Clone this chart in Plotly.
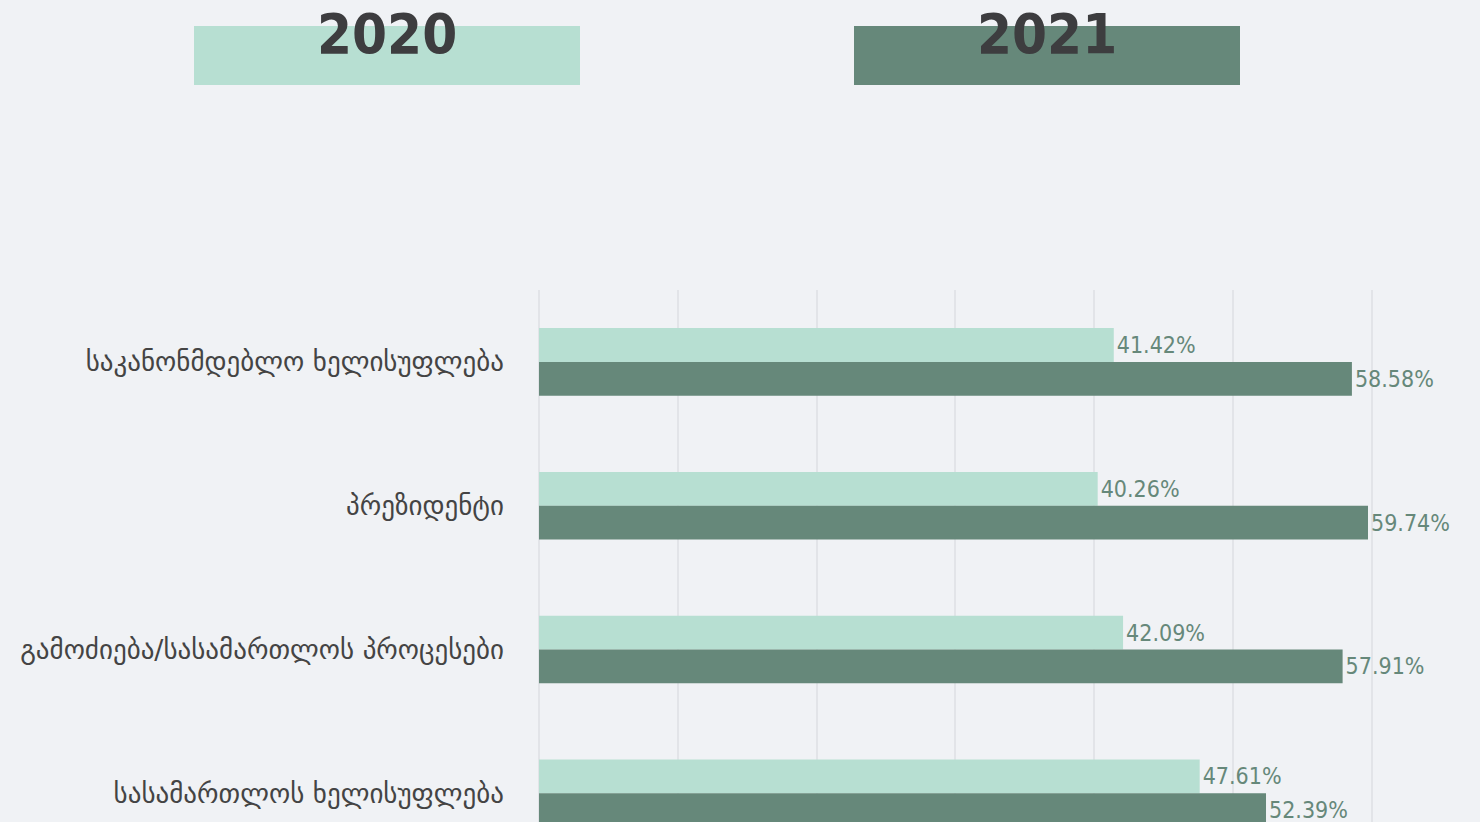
import plotly.graph_objects as go

categories = [
    "საკანონმდებლო ხელისუფლება",
    "პრეზიდენტი",
    "გამოძიება/სასამართლოს პროცესები",
    "სასამართლოს ხელისუფლება",
]
series_names = ["2020", "2021"]
values_2020 = [41.42, 40.26, 42.09, 47.61]
values_2021 = [58.58, 59.74, 57.91, 52.39]
colors = ["#b7dfd2", "#66887a"]

BG = "#f0f2f5"
W, H = 1480, 822
ML, MR, MT, MB = 539, 107, 290, 0
PW, PH = W - ML - MR, H - MT - MB

fig = go.Figure()
for name, vals, col in zip(series_names, [values_2020, values_2021], colors):
    fig.add_trace(go.Bar(
        y=categories, x=vals, name=name, orientation="h",
        marker=dict(color=col, line=dict(width=0)),
        text=[f"{v:.2f}%" for v in vals], textposition="outside",
        textfont=dict(family="DejaVu Sans Condensed, DejaVu Sans", size=23, color="#66887a"),
        cliponaxis=False,
    ))

fig.update_layout(
    width=W, height=H,
    paper_bgcolor=BG, plot_bgcolor=BG,
    margin=dict(l=ML, r=MR, t=MT, b=MB),
    barmode="group", bargap=0.53, bargroupgap=0,
    showlegend=False,
    xaxis=dict(range=[0, 60.1], dtick=10, showticklabels=False, showgrid=True,
               gridcolor="#e2e4e8", gridwidth=2, zeroline=True, zerolinecolor="#e2e4e8",
               zerolinewidth=2, fixedrange=True),
    yaxis=dict(range=[3.2, -0.5], type="category", showgrid=False,
               tickfont=dict(family="DejaVu Sans, Noto Sans", size=27, color="#444444"),
               ticks="", ticklabelstandoff=34),
)

# legend-like year boxes at top
box_x = [(194, 580), (854, 1240)]
for (x0, x1), name, col in zip(box_x, series_names, colors):
    fig.add_shape(type="rect", xref="paper", yref="paper",
                  x0=(x0 - ML) / PW, x1=(x1 - ML) / PW,
                  y0=(H - 85) / PH, y1=(H - 26) / PH,
                  fillcolor=col, line=dict(width=0), layer="above")
    fig.add_annotation(xref="paper", yref="paper",
                       x=((x0 + x1) / 2 - ML) / PW, y=(H - 0) / PH,
                       text=f"<b>{name}</b>", showarrow=False, borderpad=0,
                       font=dict(family="DejaVu Sans Condensed, DejaVu Sans", size=56, color="#3d3d3f"),
                       xanchor="center", yanchor="top")

fig.write_html("out.html", config={"displayModeBar": False},
               post_script="document.body.style.margin='0';document.body.style.overflow='hidden';")
